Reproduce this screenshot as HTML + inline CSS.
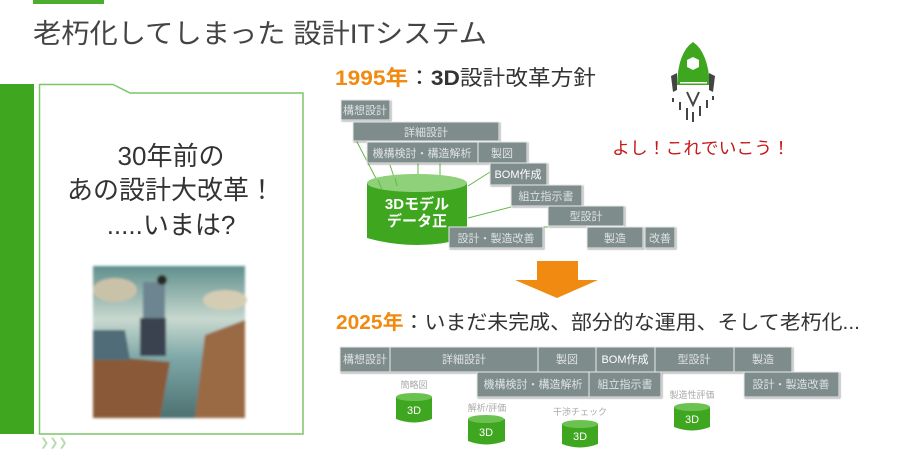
<!DOCTYPE html>
<html><head><meta charset="utf-8"><style>
html,body{margin:0;padding:0;background:#fff;}
svg text{font-family:"Liberation Sans","Noto Sans CJK JP",sans-serif;}
</style></head><body>
<svg width="899" height="450" viewBox="0 0 899 450" xmlns="http://www.w3.org/2000/svg">
<defs>
<linearGradient id="sky" x1="0" y1="0" x2="0" y2="1">
<stop offset="0" stop-color="#5f8f8c"/><stop offset="0.35" stop-color="#c8d8cf"/><stop offset="0.6" stop-color="#7fa8a8"/><stop offset="1" stop-color="#4c7070"/></linearGradient>
<filter id="bl"><feGaussianBlur stdDeviation="1.2"/></filter>
<filter id="sh"><feDropShadow dx="1" dy="1" stdDeviation="0.8" flood-color="#000" flood-opacity="0.35"/></filter>
</defs>
<rect x="33" y="0" width="71" height="4" fill="#4aad2e"/>
<text x="33" y="43" font-size="27" fill="#444" textLength="454" lengthAdjust="spacingAndGlyphs">老朽化してしまった 設計ITシステム</text>
<rect x="0" y="84" width="34" height="350" fill="#3fa61f"/>
<path d="M39.5 84.5 H113 L130 93 H303 V434 H39.5 Z" fill="#fff" stroke="#7cc66a" stroke-width="1.5"/>
<text x="171" y="165" font-size="26" fill="#333" text-anchor="middle">30年前の</text>
<text x="171" y="199" font-size="26" fill="#333" text-anchor="middle">あの設計大改革！</text>
<text x="171" y="234" font-size="26" fill="#333" text-anchor="middle">.....いまは?</text>
<g filter="url(#bl)">
<rect x="93" y="266" width="152" height="152" fill="url(#sky)"/>
<ellipse cx="115" cy="290" rx="22" ry="12" fill="#c9c2a8"/>
<ellipse cx="225" cy="300" rx="22" ry="10" fill="#d5cdb3"/>
<polygon points="93,355 170,362 160,418 93,418" fill="#8a5a38"/>
<polygon points="93,330 125,330 130,360 93,360" fill="#506c78"/>
<polygon points="205,335 245,320 245,418 195,418" fill="#9a6a45"/>
<rect x="143" y="282" width="22" height="40" fill="#6d8590"/>
<rect x="140" y="318" width="26" height="38" fill="#3a4350"/>
<circle cx="162" cy="280" r="5" fill="#2a2520"/>
</g>
<text x="40" y="446" font-size="11" fill="#b8dcae">❯❯❯</text>
<text x="335" y="85" font-size="21" fill="#333" textLength="261" lengthAdjust="spacingAndGlyphs"><tspan fill="#f08a10" font-weight="bold">1995年</tspan>：<tspan font-weight="bold">3D</tspan>設計改革方針</text>
<g transform="translate(640,30)">
<path d="M53 12 Q68 22 70 55 H37 Q38 22 53 12Z" fill="#3fa61f"/>
<polygon points="53,27 59,30 59,37 53,40 47,37 47,30" fill="#fff"/>
<rect x="40" y="52" width="27" height="1.5" fill="#fff"/>
<polygon points="31,46 37,43 37,60 33,62" fill="#444"/>
<polygon points="75,46 69,43 69,60 73,62" fill="#444"/>
<path d="M47 62 L53 75 L59 62" fill="none" stroke="#444" stroke-width="2"/>
<g stroke="#444" stroke-width="2"><line x1="33" y1="68" x2="33" y2="72"/><line x1="40" y1="72" x2="40" y2="80"/><line x1="47" y1="78" x2="47" y2="90"/><line x1="53" y1="82" x2="53" y2="92"/><line x1="60" y1="76" x2="60" y2="86"/><line x1="67" y1="70" x2="67" y2="78"/><line x1="73" y1="66" x2="73" y2="70"/></g>
</g>
<text x="612" y="154" font-size="17" fill="#c81818" textLength="178" lengthAdjust="spacingAndGlyphs">よし！これでいこう！</text>
<g stroke="#62b84a" stroke-width="1">
<line x1="356" y1="140" x2="382" y2="190"/><line x1="390" y1="165" x2="397" y2="186"/><line x1="418" y1="163" x2="418" y2="190"/><line x1="440" y1="163" x2="440" y2="190"/><line x1="468" y1="186" x2="490" y2="172"/><line x1="468" y1="218" x2="511" y2="207"/><line x1="449" y1="227" x2="548" y2="227"/>
</g>
<path d="M367 183 V238 Q417 252 467 238 V183" fill="#3fa61f"/>
<ellipse cx="417" cy="183" rx="50" ry="9" fill="#8fd07a"/>
<g stroke="#62b84a" stroke-width="1"><line x1="382" y1="190" x2="378" y2="180"/><line x1="397" y1="186" x2="395" y2="178"/></g>
<text x="417" y="209" font-size="15" font-weight="bold" fill="#fff" text-anchor="middle">3Dモデル</text>
<text x="417" y="226" font-size="15" font-weight="bold" fill="#fff" text-anchor="middle">データ正</text>
<g fill="#7f8c8c" stroke="#e8eaea" stroke-width="1" filter="url(#sh)">
<rect x="341" y="100" width="49" height="20"/>
<rect x="353" y="122" width="146" height="19"/>
<rect x="367" y="142" width="111" height="21"/>
<rect x="478" y="142" width="49" height="21"/>
<rect x="490" y="163" width="57" height="22"/>
<rect x="511" y="185" width="71" height="21"/>
<rect x="548" y="206" width="76" height="20"/>
<rect x="449" y="227" width="94" height="21"/>
<rect x="587" y="227" width="56" height="21"/>
<rect x="645" y="227" width="30" height="21"/>
</g>
<g font-size="11" fill="#dde2e2" text-anchor="middle">
<text x="365" y="114">構想設計</text><text x="426" y="136">詳細設計</text><text x="422" y="157">機構検討・構造解析</text><text x="502" y="157">製図</text><text x="518" y="178" fill="#fff">BOM作成</text><text x="546" y="200">組立指示書</text><text x="586" y="220">型設計</text><text x="496" y="242">設計・製造改善</text><text x="615" y="242">製造</text><text x="660" y="242">改善</text>
</g>
<polygon points="537,261 578,261 578,280 598,280 557,298 515,280 537,280" fill="#f08a10"/>
<text x="336" y="329" font-size="20" fill="#333" textLength="524" lengthAdjust="spacingAndGlyphs"><tspan fill="#f08a10" font-weight="bold">2025年</tspan>：いまだ未完成、部分的な運用、そして老朽化...</text>
<g fill="#7f8c8c" stroke="#e8eaea" stroke-width="1" filter="url(#sh)">
<rect x="340" y="347" width="50" height="25"/><rect x="390" y="347" width="148" height="25"/><rect x="538" y="347" width="58" height="25"/><rect x="596" y="347" width="59" height="25"/><rect x="655" y="347" width="79" height="25"/><rect x="734" y="347" width="58" height="25"/>
<rect x="477" y="372" width="112" height="25"/><rect x="589" y="372" width="72" height="25"/><rect x="744" y="372" width="95" height="25"/>
</g>
<g font-size="11" fill="#dde2e2" text-anchor="middle">
<text x="365" y="363">構想設計</text><text x="464" y="363">詳細設計</text><text x="567" y="363">製図</text><text x="625" y="363" fill="#fff">BOM作成</text><text x="694" y="363">型設計</text><text x="763" y="363">製造</text>
<text x="533" y="388">機構検討・構造解析</text><text x="625" y="388">組立指示書</text><text x="791" y="388">設計・製造改善</text>
</g>
<g font-size="9" fill="#aaa" text-anchor="middle">
<text x="414" y="388">簡略図</text><text x="487" y="411">解析/評価</text><text x="580" y="415">干渉チェック</text><text x="692" y="398">製造性評価</text>
</g>
<g>
<path d="M396 397 V419 Q414 426 432 419 V397Z" fill="#3fa61f"/><ellipse cx="414" cy="397" rx="18" ry="4" fill="#6cc250"/><text x="414" y="414" font-size="11" fill="#fff" text-anchor="middle">3D</text>
<path d="M468 419 V441 Q486 448 505 441 V419Z" fill="#3fa61f"/><ellipse cx="486" cy="419" rx="18" ry="4" fill="#6cc250"/><text x="486" y="436" font-size="11" fill="#fff" text-anchor="middle">3D</text>
<path d="M562 424 V444 Q580 451 598 444 V424Z" fill="#3fa61f"/><ellipse cx="580" cy="424" rx="18" ry="4" fill="#6cc250"/><text x="580" y="440" font-size="11" fill="#fff" text-anchor="middle">3D</text>
<path d="M674 407 V427 Q692 434 710 427 V407Z" fill="#3fa61f"/><ellipse cx="692" cy="407" rx="18" ry="4" fill="#6cc250"/><text x="692" y="423" font-size="11" fill="#fff" text-anchor="middle">3D</text>
</g>
</svg>
</body></html>
